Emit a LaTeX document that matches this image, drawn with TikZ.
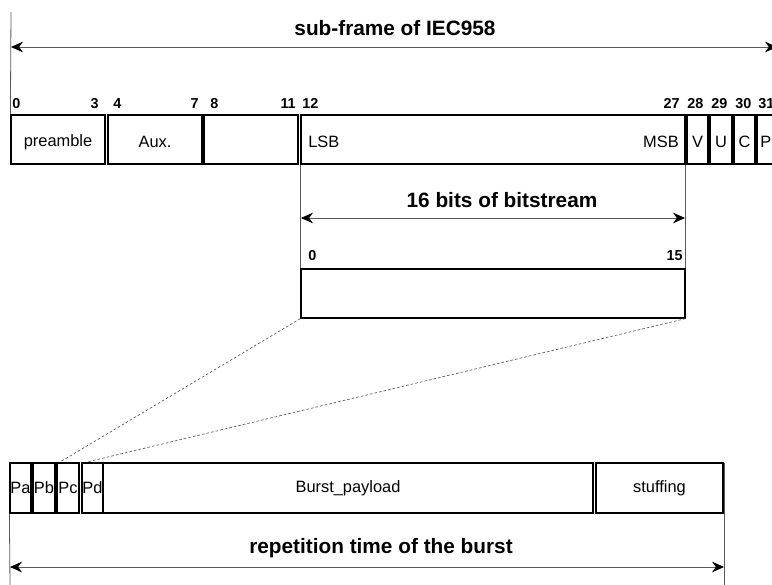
\documentclass[tikz,border=0pt]{standalone}
\usepackage{fontspec}
\setmainfont{Liberation Sans}
\usetikzlibrary{arrows.meta,fit}
\begin{document}
\begin{tikzpicture}[x=0.75pt,y=-0.75pt,
  box/.style={draw=black, line width=0.9pt, inner sep=0pt},
  lbl/.style={inner sep=0pt, font=\fontsize{12.3}{14}\selectfont},
  num/.style={inner sep=0pt, font=\bfseries\fontsize{10.8}{12}\selectfont},
  ttl/.style={inner sep=0pt, font=\bfseries\fontsize{15.6}{18}\selectfont},
  dim/.style={draw=black!65, line width=0.6pt},
  dimarrow/.style={dim, {Stealth[length=9pt,width=8pt,color=black]}-{Stealth[length=9pt,width=8pt,color=black]}},
  zoomline/.style={draw=black!65, line width=0.5pt, dash pattern=on 2pt off 1.5pt}]
\useasboundingbox (0,0) rectangle (772,585);

% ---- IEC958 sub-frame ----
\node[box, fit={(11,115) (105,164)}] (pre) {};
\node[box, fit={(108,115) (202,164)}] (aux) {};
\node[box, fit={(204,115) (298,164)}] (blank) {};
\node[box, fit={(301,115) (685,164)}] (audio) {};
\node[box, fit={(687,115) (708,164)}] (v) {};
\node[box, fit={(710,115) (732,164)}] (u) {};
\node[box, fit={(734,115) (755,164)}] (c) {};
\node[box, fit={(757,115) (782,164)}] (p) {};
\node[lbl, yshift=-2pt] (tpre) at (pre.center) {preamble};
\node[lbl, yshift=-2pt] (taux) at (aux.center) {Aux.};
\node[lbl, yshift=-2pt] (tv) at (v.center) {V};
\node[lbl, yshift=-2pt] (tu) at (u.center) {U};
\node[lbl, yshift=-2pt] (tc) at (c.center) {C};
\node[lbl, yshift=-2pt, anchor=west] (tp) at (760,139.5) {P};
\node[lbl, anchor=west] (lsb) at (308,142) {LSB};
\node[lbl, anchor=east] (msb) at (679,142) {MSB};

\node[num, anchor=base west] (n0) at (12,109) {0};
\node[num, anchor=base east] (n3) at (99,109) {3};
\node[num, anchor=base west] (n4) at (113,109) {4};
\node[num, anchor=base east] (n7) at (199,109) {7};
\node[num, anchor=base west] (n8) at (210,109) {8};
\node[num, anchor=base east] (n11) at (296,109) {11};
\node[num, anchor=base west] (n12) at (302,109) {12};
\node[num, anchor=base east] (n27) at (680,109) {27};
\node[num, anchor=base west] (n28) at (687,109) {28};
\node[num, anchor=base west] (n29) at (711,109) {29};
\node[num, anchor=base west] (n30) at (735,109) {30};
\node[num, anchor=base west] (n31) at (758,109) {31};

\coordinate (ttop) at (11,12);
\coordinate (tl) at (11,47);
\coordinate (tr) at (777,47);
\draw[dim] (ttop) -- (pre.north west);
\draw[dimarrow] (tl) -- (tr);
\node[ttl, anchor=base] (sftitle) at (395,36) {sub-frame of IEC958};

% ---- 16 bits ----
\node[box, fit={(301,269) (685,318)}] (bits) {};
\draw[dim] (audio.south west) -- (bits.north west);
\draw[dim] (audio.south east) -- (bits.north east);
\coordinate (bl) at (301,218);
\coordinate (br) at (685,218);
\draw[dimarrow] (bl) -- (br);
\node[ttl, anchor=base] (bitstitle) at (502,207) {16 bits of bitstream};
\node[num, anchor=base west] (b0) at (308,260) {0};
\node[num, anchor=base east] (b15) at (683,260) {15};

% ---- burst ----
\node[box, fit={(10,463) (31,513)}] (pa) {};
\node[box, fit={(33,463) (55,513)}] (pb) {};
\node[box, fit={(57,463) (79,513)}] (pc) {};
\node[box, fit={(82,463) (103,513)}] (pd) {};
\node[box, fit={(103,463) (593,513)}] (pay) {};
\node[box, fit={(596,463) (723,513)}] (stuff) {};
\node[lbl] (tpa) at (pa.center) {Pa};
\node[lbl] (tpb) at (pb.center) {Pb};
\node[lbl] (tpc) at (pc.center) {Pc};
\node[lbl] (tpd) at (pd.center) {Pd};
\node[lbl] (tpay) at (pay.center) {Burst\_payload};
\node[lbl] (tstuff) at (stuff.center) {stuffing};

\coordinate (z1) at (60,462);
\coordinate (z2) at (87,462);
\draw[zoomline] (bits.south west) -- (z1);
\draw[zoomline] (bits.south east) -- (z2);

\coordinate (lb) at (10,585);
\coordinate (rb) at (724,585);
\coordinate (rt) at (724,463);
\draw[dim] (pa.south west) -- (lb);
\draw[dim] (rt) -- (rb);
\coordinate (al) at (10,567);
\coordinate (ar) at (724,567);
\draw[dimarrow] (al) -- (ar);
\node[ttl, anchor=base] (reptitle) at (381,553) {repetition time of the burst};
\end{tikzpicture}
\end{document}
